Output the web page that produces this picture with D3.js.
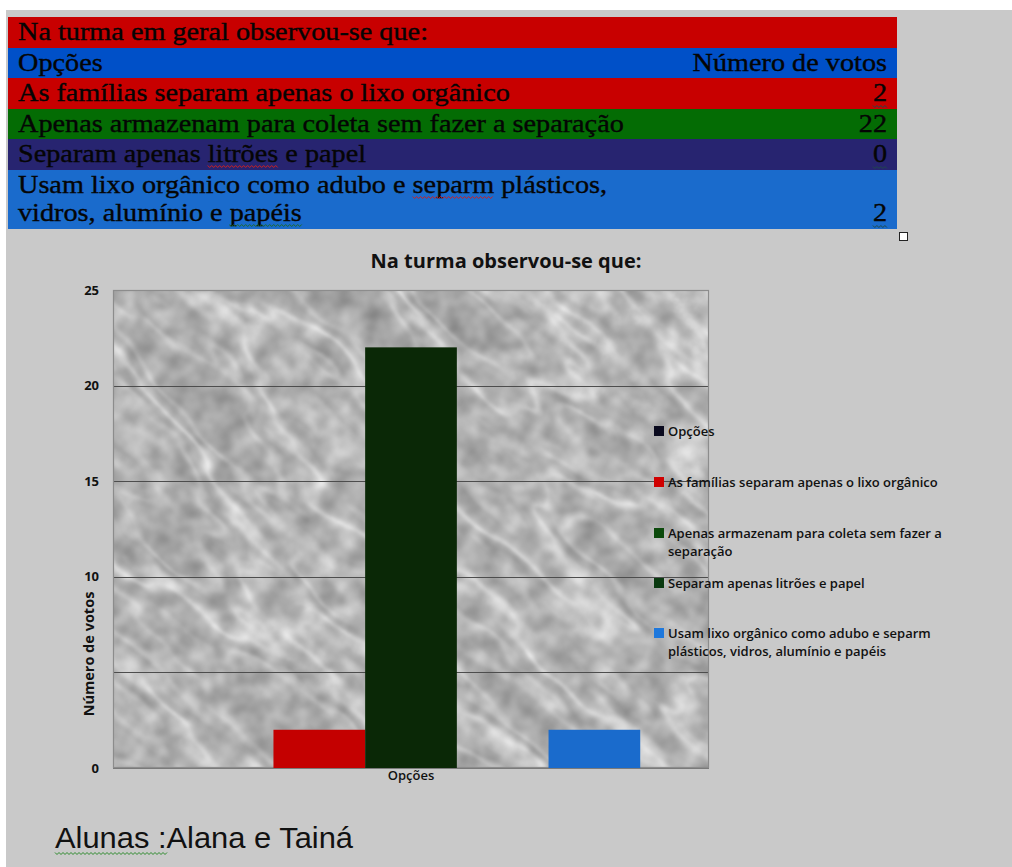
<!DOCTYPE html>
<html lang="pt">
<head>
<meta charset="utf-8">
<title>Na turma observou-se que:</title>
<script src="https://cdn.jsdelivr.net/npm/d3@7"></script>
<style>
  html, body { margin: 0; padding: 0; background: #ffffff; }
  svg { display: block; }
</style>
</head>
<body>
<svg id="page" width="1012" height="867"></svg>
<script>
// ---- data -------------------------------------------------------------
const tableTitle = "Na turma em geral observou-se que:";
const tableHeader = ["Opções", "Número de votos"];
const options = [
  "As famílias separam apenas o lixo orgânico",
  "Apenas armazenam para coleta sem fazer a separação",
  "Separam apenas litrões e papel",
  "Usam lixo orgânico como adubo e separm plásticos, vidros, alumínio e papéis"
];
const votes = [2, 22, 0, 2];
// line breaks used in the table rows
const tableRowLines = [
  ["As famílias separam apenas o lixo orgânico"],
  ["Apenas armazenam para coleta sem fazer a separação"],
  ["Separam apenas litrões e papel"],
  ["Usam lixo orgânico como adubo e separm plásticos,", "vidros, alumínio e papéis"]
];
// chart series: the header row "Opções" is a series with no value
const seriesNames = ["Opções"].concat(options);
const seriesValues = [null].concat(votes);
const legendLines = [
  ["Opções"],
  ["As famílias separam apenas o lixo orgânico"],
  ["Apenas armazenam para coleta sem fazer a", "separação"],
  ["Separam apenas litrões e papel"],
  ["Usam lixo orgânico como adubo e separm", "plásticos, vidros, alumínio e papéis"]
];
const categories = ["Opções"];
const yTicks = [0, 5, 10, 15, 20, 25];
const yTickLabels = ["0", "", "10", "15", "20", "25"];
const chartTitle = "Na turma observou-se que:";
const yAxisTitle = "Número de votos";
const footerText = "Alunas :Alana e Tainá";

// ---- styles -----------------------------------------------------------
const rowFill = ["#c80000", "#0050c8", "#c80000", "#046c04", "#272470", "#1a6bcc"];
const seriesFill = ["#0a0a1e", "#c40000", "#0a2806", "#093a10", "#1a6bcc"];
const legendFill = ["#0a0a1e", "#d00000", "#0c4a0c", "#0a3a10", "#1e78dc"];
const serif = "'Liberation Serif', 'Times New Roman', serif";
const sans = "'Open Sans', Lato, 'Liberation Sans', sans-serif";
// grey ramp for the marble plot background (bright bands = veins)
const marbleTable = [0.56, 0.58, 0.60, 0.62, 0.64, 0.65, 0.67, 0.76, 0.67, 0.70, 0.83,
                     0.70, 0.67, 0.76, 0.67, 0.65, 0.64, 0.62, 0.60, 0.58, 0.56];

const svg = d3.select("#page");
const defs = svg.append("defs");

// page background
svg.append("rect").attr("x", 6).attr("y", 10).attr("width", 1006).attr("height", 857)
  .attr("fill", "#c9c9c9");

// wavy underline helper (spell/grammar checker marks)
function squiggle(g, x0, x1, y, color) {
  const pts = [];
  for (let x = x0, i = 0; x <= x1; x += 2, i++) pts.push([x, y + (i % 2 ? 1.5 : -0.5)]);
  g.append("path").attr("d", d3.line()(pts)).attr("fill", "none")
    .attr("stroke", color).attr("stroke-width", 1);
}

// ---- table ------------------------------------------------------------
const tbl = svg.append("g");
const tX0 = 8, tX1 = 897, rowTop = [17, 48, 78, 109, 139, 170, 229];
const k = 1.13;            // horizontal stretch of the table text
const tFont = 25;

rowTop.slice(0, -1).forEach((y, i) => {
  tbl.append("rect").attr("x", tX0).attr("y", y).attr("width", tX1 - tX0)
    .attr("height", rowTop[i + 1] - y).attr("fill", rowFill[i]);
});

function tableText(str, x, y, anchor) {
  return tbl.append("text")
    .attr("transform", `translate(${x},${y}) scale(${k},1)`)
    .attr("font-family", serif).attr("font-size", tFont)
    .attr("fill", "#050505").attr("stroke", "#050505").attr("stroke-width", 0.35)
    .attr("text-anchor", anchor || "start")
    .text(str);
}
// underline a word of a start-anchored text
function markWord(t, x, y, word, color) {
  const s = t.text(), i = s.indexOf(word);
  const node = t.node();
  const a = i > 0 ? node.getSubStringLength(0, i) : 0;
  const w = node.getSubStringLength(i, word.length);
  squiggle(tbl, x + a * k, x + (a + w) * k, y + 4, color);
}
// underline a whole end-anchored text
function markEnd(t, x, y, color) {
  const w = t.node().getComputedTextLength() * k;
  squiggle(tbl, x - w, x, y + 5, color);
}

const txL = 18, txR = 887;
tableText(tableTitle, txL, 40);
tableText(tableHeader[0], txL, 71);
tableText(tableHeader[1], txR, 71, "end");
const firstRow = 2;
tableRowLines.forEach((lines, r) => {
  const top = rowTop[firstRow + r];
  lines.forEach((ln, j) => {
    const y = top + 23 + j * 28;
    const t = tableText(ln, txL, y);
    if (ln.indexOf("litrões") >= 0) markWord(t, txL, y, "litrões", "#d02020");
    if (ln.indexOf("separm") >= 0) markWord(t, txL, y, "separm", "#d02020");
    if (ln.indexOf("papéis") >= 0) markWord(t, txL, y, "papéis", "#1f6a2a");
  });
  const yNum = top + 23 + (lines.length - 1) * 28;
  const n = tableText(String(votes[r]), txR, yNum, "end");
  if (votes[r] !== 22) markEnd(n, txR, yNum, "#1f4a4a");
});
// resize handle
svg.append("rect").attr("x", 899.5).attr("y", 232.5).attr("width", 8).attr("height", 8)
  .attr("fill", "#ffffff").attr("stroke", "#222").attr("stroke-width", 1);

// ---- chart ------------------------------------------------------------
const plot = { left: 113, right: 709, top: 290, bottom: 768 };

const x = d3.scaleBand().domain(categories).range([plot.left, plot.right])
  .paddingInner(0).paddingOuter(0.15);
const xs = d3.scaleBand().domain(seriesNames).range([0, x.bandwidth()]).padding(0);
const y = d3.scaleLinear().domain([0, 25]).range([plot.bottom, plot.top]);

// marble-like plot background: contour bands of stretched noise + fine grain
const clip = defs.append("clipPath").attr("id", "plotClip");
clip.append("rect").attr("x", plot.left).attr("y", plot.top)
  .attr("width", plot.right - plot.left).attr("height", plot.bottom - plot.top);
const f = defs.append("filter").attr("id", "marble")
  .attr("x", 0).attr("y", 0).attr("width", 1).attr("height", 1)
  .attr("filterUnits", "objectBoundingBox")
  .attr("color-interpolation-filters", "sRGB");
const redToGray = "1 0 0 0 0  1 0 0 0 0  1 0 0 0 0  0 0 0 0 1";
f.append("feTurbulence").attr("type", "fractalNoise").attr("baseFrequency", "0.0035 0.011")
  .attr("numOctaves", 4).attr("seed", 4).attr("result", "n1");
f.append("feColorMatrix").attr("in", "n1").attr("type", "matrix")
  .attr("values", redToGray).attr("result", "g1");
const ct = f.append("feComponentTransfer").attr("in", "g1").attr("result", "veins");
["feFuncR", "feFuncG", "feFuncB"].forEach(fn =>
  ct.append(fn).attr("type", "table").attr("tableValues", marbleTable.join(" ")));
f.append("feTurbulence").attr("type", "fractalNoise").attr("baseFrequency", "0.05")
  .attr("numOctaves", 2).attr("seed", 9).attr("result", "n2");
f.append("feColorMatrix").attr("in", "n2").attr("type", "matrix")
  .attr("values", redToGray).attr("result", "g2");
f.append("feComposite").attr("in", "veins").attr("in2", "g2").attr("operator", "arithmetic")
  .attr("k1", 0).attr("k2", 1).attr("k3", 0.3).attr("k4", -0.15);
f.append("feGaussianBlur").attr("stdDeviation", 1.3);

const bg = svg.append("g").attr("clip-path", "url(#plotClip)");
bg.append("rect").attr("x", plot.left).attr("y", plot.top)
  .attr("width", plot.right - plot.left).attr("height", plot.bottom - plot.top).attr("fill", "#aaaaaa");
const cx = (plot.left + plot.right) / 2, cy = (plot.top + plot.bottom) / 2;
bg.append("g").attr("transform", `rotate(40,${cx},${cy})`)
  .append("rect").attr("x", cx - 520).attr("y", cy - 520).attr("width", 1040).attr("height", 1040)
  .attr("filter", "url(#marble)");

// gridlines
svg.append("g").selectAll("line").data(yTicks.filter(d => d > 0 && d < 25)).join("line")
  .attr("x1", plot.left).attr("x2", plot.right)
  .attr("y1", d => Math.round(y(d)) + 0.5).attr("y2", d => Math.round(y(d)) + 0.5)
  .attr("stroke", "#4d4d4d").attr("stroke-width", 1);

// plot frame
svg.append("rect").attr("x", plot.left + 0.5).attr("y", plot.top + 0.5)
  .attr("width", plot.right - plot.left - 1).attr("height", plot.bottom - plot.top - 1)
  .attr("fill", "none").attr("stroke", "#8c8c8c").attr("stroke-width", 1.2);

// bars
const bars = svg.append("g");
categories.forEach(cat => {
  bars.selectAll("rect.bar").data(seriesNames.map((s, i) => ({ s, i, v: seriesValues[i] }))
      .filter(d => d.v)).join("rect")
    .attr("class", "bar")
    .attr("x", d => x(cat) + xs(d.s)).attr("width", xs.bandwidth())
    .attr("y", d => y(d.v)).attr("height", d => y(0) - y(d.v))
    .attr("fill", d => seriesFill[d.i]);
});

// baseline axis
svg.append("line").attr("x1", plot.left).attr("x2", plot.right)
  .attr("y1", plot.bottom + 0.5).attr("y2", plot.bottom + 0.5)
  .attr("stroke", "#7a7a7a").attr("stroke-width", 1.2);

// y axis labels
const yAxis = d3.axisLeft(y).tickValues(yTicks).tickSize(0).tickPadding(0)
  .tickFormat((d, i) => yTickLabels[i]);
const yg = svg.append("g").attr("transform", `translate(${plot.left - 14},0)`).call(yAxis);
yg.select(".domain").remove();
yg.selectAll("text").attr("font-family", sans).attr("font-size", 13).attr("font-weight", 700)
  .attr("fill", "#111");

// x axis label
const xAxis = d3.axisBottom(x).tickSize(0).tickPadding(0);
const xg = svg.append("g").attr("transform", `translate(0,${plot.bottom + 3})`).call(xAxis);
xg.select(".domain").remove();
xg.selectAll("text").attr("font-family", sans).attr("font-size", 13).attr("fill", "#111")
  .attr("font-weight", 600);

// titles
svg.append("text").attr("x", 506).attr("y", 268).attr("text-anchor", "middle")
  .attr("font-family", sans).attr("font-size", 20).attr("font-weight", 700).attr("fill", "#111")
  .text(chartTitle);
svg.append("text").attr("transform", "translate(94,654) rotate(-90)").attr("text-anchor", "middle")
  .attr("font-family", sans).attr("font-size", 14.5).attr("font-weight", 700).attr("fill", "#111")
  .text(yAxisTitle);

// legend
const legendY = [431, 482, 533, 583, 633];
const lg = svg.append("g");
legendLines.forEach((lines, i) => {
  lg.append("rect").attr("x", 654).attr("y", legendY[i] - 5).attr("width", 10).attr("height", 10)
    .attr("fill", legendFill[i]);
  lines.forEach((ln, j) => {
    lg.append("text").attr("x", 668).attr("y", legendY[i] + 4.5 + j * 18.5)
      .attr("font-family", sans).attr("font-size", 13).attr("font-weight", 600).attr("fill", "#111")
      .text(ln);
  });
});

// footer
svg.append("text").attr("x", 55).attr("y", 848)
  .attr("font-family", "'Liberation Sans', Arial, sans-serif").attr("font-size", 29).attr("fill", "#111")
  .attr("textLength", 298).attr("lengthAdjust", "spacingAndGlyphs")
  .text(footerText);
squiggle(svg, 55, 168, 853, "#2a8a2a");
</script>
</body>
</html>
